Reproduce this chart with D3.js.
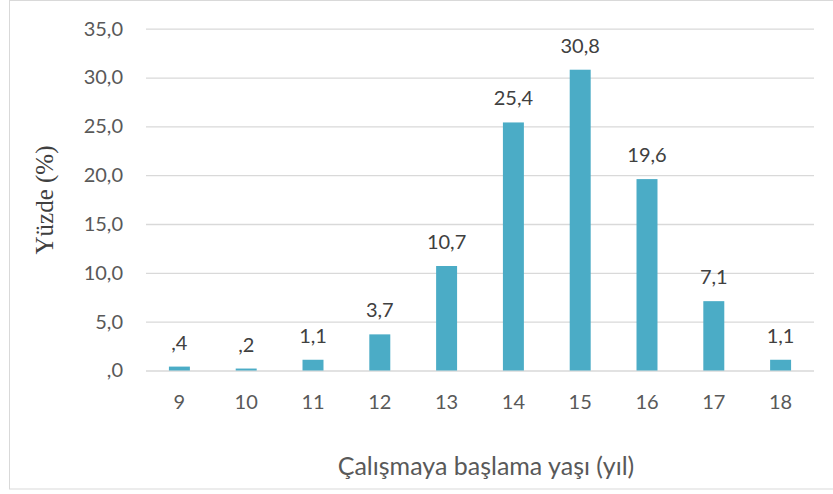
<!DOCTYPE html>
<html><head><meta charset="utf-8">
<script src="https://cdn.jsdelivr.net/npm/d3@7"></script>
<style>body{margin:0;background:#fff;} svg{display:block;}</style>
</head><body>
<script>
const categories = ["9","10","11","12","13","14","15","16","17","18"];
const values = [0.4,0.2,1.1,3.7,10.7,25.4,30.8,19.6,7.1,1.1];
const labels = [",4",",2","1,1","3,7","10,7","25,4","30,8","19,6","7,1","1,1"];
const yTicks = [0,5,10,15,20,25,30,35];
const xTitle = "Çalışmaya başlama yaşı (yıl)";
const yTitle = "Yüzde (%)";

const W = 833, H = 494;
const svg = d3.select("body").append("svg").attr("width", W).attr("height", H);
const font = "Lato, 'Open Sans', sans-serif";
const txt = "#595959";

svg.append("rect").attr("x",9.5).attr("y",0.5).attr("width",840).attr("height",488.5)
  .attr("fill","#fff").attr("stroke","#d9d9d9").attr("stroke-width",1);

const x = d3.scaleBand().domain(categories).range([146, 814]).paddingInner(0.686).paddingOuter(0.343);
const y = d3.scaleLinear().domain([0,35]).range([370.5, 28.7]);

const fmt = v => v === 0 ? ",0" : d3.format(".1f")(v).replace(".", ",");

const yAxis = svg.append("g").attr("transform","translate(146,0)")
  .call(d3.axisLeft(y).tickValues(yTicks).tickSize(-668).tickFormat(fmt));
yAxis.select(".domain").remove();
yAxis.selectAll("line").attr("stroke","#d9d9d9").attr("stroke-width",1.3);
yAxis.selectAll("text").attr("x",-23).attr("fill",txt).attr("font-family",font).attr("font-size",20);

svg.selectAll("rect.bar").data(values).enter().append("rect").attr("class","bar")
  .attr("x",(d,i)=>x(categories[i])).attr("width",x.bandwidth())
  .attr("y",d=>y(d)).attr("height",d=>y(0)-y(d)).attr("fill","#4bacc6");

svg.selectAll("text.lbl").data(values).enter().append("text").attr("class","lbl")
  .attr("x",(d,i)=>x(categories[i])+x.bandwidth()/2).attr("y",d=>y(d)-17)
  .attr("text-anchor","middle").attr("fill","#404040").attr("font-family",font).attr("font-size",20)
  .text((d,i)=>labels[i]);

const xAxis = svg.append("g").attr("transform","translate(0,370.5)")
  .call(d3.axisBottom(x).tickSize(0).tickPadding(0));
xAxis.select(".domain").remove();
xAxis.selectAll("text").attr("dy",0).attr("y",38.5).attr("fill",txt).attr("font-family",font).attr("font-size",20);

svg.append("text").attr("x",486).attr("y",475).attr("text-anchor","middle")
  .attr("fill",txt).attr("font-family",font).attr("font-size",25).text(xTitle);

svg.append("text").attr("transform","translate(53,200) rotate(-90)").attr("text-anchor","middle")
  .attr("fill","#404040").attr("font-family","'Liberation Serif', serif").attr("font-size",25).text(yTitle);
</script>
</body></html>
